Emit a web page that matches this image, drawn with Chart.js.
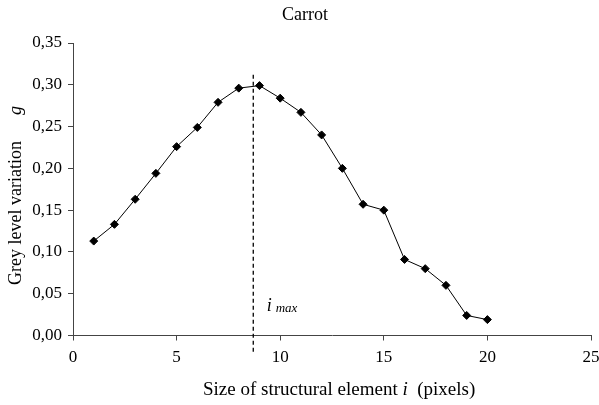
<!DOCTYPE html>
<html>
<head>
<meta charset="utf-8">
<script src="https://cdn.jsdelivr.net/npm/chart.js@4"></script>
<style>
  body { margin: 0; background: #fff; }
</style>
</head>
<body>
<canvas id="carrot-chart" width="599" height="405"></canvas>
<script>
// Data
var structSizes = [1, 2, 3, 4, 5, 6, 7, 8, 9, 10, 11, 12, 13, 14, 15, 16, 17, 18, 19, 20];
var greyVariation = [0.113, 0.133, 0.163, 0.194, 0.226, 0.249, 0.279, 0.296, 0.299, 0.284,
                     0.267, 0.240, 0.200, 0.157, 0.150, 0.091, 0.080, 0.060, 0.024, 0.019];
var iMax = 8.7;
var iMaxLineRange = [-0.021, 0.312];

var serif = "'Liberation Serif', 'Times New Roman', serif";

function tickComma(v) {
    return v.toFixed(2).replace('.', ',');
}

// Dashed i_max marker and the texts with mixed italic parts
var annotations = {
    id: 'annotations',
    afterDatasetsDraw: function(chart) {
        var ctx = chart.ctx;
        var xs = chart.scales.x, ys = chart.scales.y;
        ctx.save();

        // dashed line at i_max
        var xp = xs.getPixelForValue(iMax);
        ctx.strokeStyle = '#000';
        ctx.lineWidth = 1.3;
        ctx.setLineDash([4, 3]);
        ctx.beginPath();
        ctx.moveTo(xp, ys.getPixelForValue(iMaxLineRange[1]));
        ctx.lineTo(xp, ys.getPixelForValue(iMaxLineRange[0]));
        ctx.stroke();
        ctx.setLineDash([]);

        ctx.fillStyle = '#000';
        ctx.textBaseline = 'alphabetic';

        // i_max label
        var lx = xs.getPixelForValue(iMax + 0.65);
        var ly = ys.getPixelForValue(0.029);
        ctx.font = 'italic 18px ' + serif;
        ctx.textAlign = 'left';
        ctx.fillText('i', lx, ly);
        var w = ctx.measureText('i').width;
        ctx.font = 'italic 13px ' + serif;
        ctx.fillText('max', lx + w + 4, ly + 1);

        // title
        ctx.font = '18px ' + serif;
        ctx.textAlign = 'center';
        ctx.textBaseline = 'middle';
        ctx.fillText('Carrot', 305, 15);

        // x axis title
        ctx.textBaseline = 'alphabetic';
        var p1 = 'Size of structural element ', p2 = 'i', p3 = '  (pixels)';
        ctx.font = '19px ' + serif;
        var w1 = ctx.measureText(p1).width;
        ctx.font = 'italic 19px ' + serif;
        var w2 = ctx.measureText(p2).width;
        var start = 203;
        ctx.textAlign = 'left';
        ctx.font = '19px ' + serif;
        ctx.fillText(p1, start, 395);
        ctx.font = 'italic 19px ' + serif;
        ctx.fillText(p2, start + w1, 395);
        ctx.font = '19px ' + serif;
        ctx.fillText(p3, start + w1 + w2, 395);

        // y axis title
        ctx.translate(21, 285);
        ctx.rotate(-Math.PI / 2);
        ctx.font = '18px ' + serif;
        ctx.fillText('Grey level variation', 0, 0);
        var wy = ctx.measureText('Grey level variation').width;
        ctx.font = 'italic 18px ' + serif;
        ctx.fillText('g', wy + 26, 0);

        ctx.restore();
    }
};

var ctx = document.getElementById('carrot-chart');

var chartData = {
    datasets: [{
        data: structSizes.map(function(s, i) { return { x: s, y: greyVariation[i] }; }),
        showLine: true,
        borderColor: '#000',
        borderWidth: 1,
        backgroundColor: '#000',
        pointStyle: 'rectRot',
        pointRadius: 4,
        pointHoverRadius: 4,
        tension: 0
    }]
};

var chartOptions = {
    responsive: false,
    animation: false,
    layout: { padding: { top: 43, right: 8, left: 0, bottom: 0 } },
    plugins: {
        legend: { display: false },
        title: { display: false },
        tooltip: { enabled: false }
    },
    scales: {
        x: {
            type: 'linear',
            min: 0,
            max: 25,
            ticks: {
                stepSize: 5,
                color: '#000',
                padding: 7,
                maxRotation: 0,
                font: { family: serif, size: 17 }
            },
            grid: { drawOnChartArea: false, drawTicks: true, tickLength: 5, color: '#444' },
            border: { display: true, color: '#444', width: 1 },
            afterFit: function(scale) {
                scale.height = 69.5;
                scale.paddingLeft = 0;
                scale.paddingRight = 0;
            }
        },
        y: {
            min: 0,
            max: 0.35,
            ticks: {
                stepSize: 0.05,
                color: '#000',
                padding: 6,
                font: { family: serif, size: 17 },
                callback: function(v) { return tickComma(v); }
            },
            grid: { drawOnChartArea: false, drawTicks: true, tickLength: 5, color: '#444' },
            border: { display: true, color: '#444', width: 1 },
            afterFit: function(scale) { scale.width = 73; }
        }
    }
};

var config = {
    type: 'scatter',
    data: chartData,
    options: chartOptions,
    plugins: [annotations]
};

var carrotChart = new Chart(ctx, config);
</script>
</body>
</html>
